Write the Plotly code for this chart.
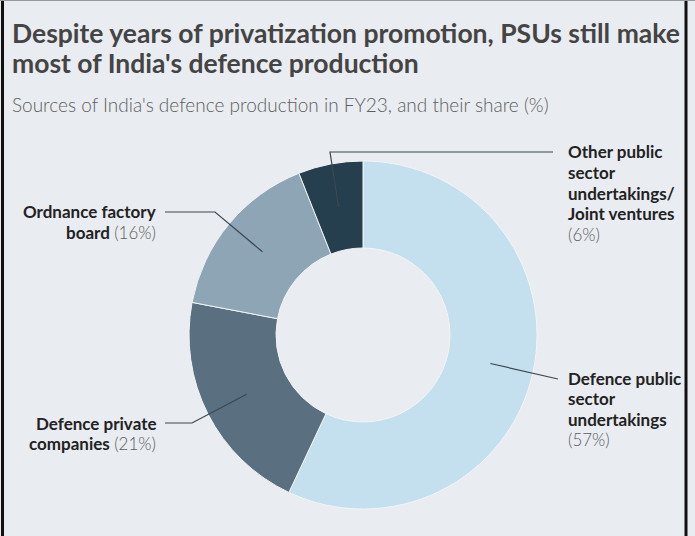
import math
import plotly.graph_objects as go

# Sources of India's defence production, FY23 (share, %)
categories = [
    "Defence public sector undertakings",
    "Defence private companies",
    "Ordnance factory board",
    "Other public sector undertakings/Joint ventures",
]
shares = [57, 21, 16, 6]
colors = ["#c4dfed", "#5a6f7f", "#8ea5b5", "#253f4e"]

PCT = "<span style='color:#5c5c5c;font-weight:300'>({}%)</span>"
label_lines = [
    ["<b>Defence public</b>", "<b>sector</b>", "<b>undertakings</b>", PCT.format(shares[0])],
    ["<b>Defence private</b>", "<b>companies</b> " + PCT.format(shares[1])],
    ["<b>Ordnance factory</b>", "<b>board</b> " + PCT.format(shares[2])],
    ["<b>Other public</b>", "<b>sector</b>", "<b>undertakings/</b>", "<b>Joint ventures</b>",
     PCT.format(shares[3])],
]

title_lines = [
    "Despite years of privatization promotion, PSUs still make",
    "most of India's defence production",
]
subtitle = "Sources of India's defence production in FY23, and their share (%)"

W, H = 695, 536
BG = "#e9ecf0"

# donut placement (pixels)
cx, cy, R = 363, 335, 174
HOLE = 0.5


def px(x):
    return x / W


def py(y):
    return 1 - y / H


fig = go.Figure()
fig.add_trace(go.Pie(
    labels=categories,
    values=shares,
    hole=HOLE,
    sort=False,
    direction="clockwise",
    rotation=0,
    marker=dict(colors=colors, line=dict(color="#f2f5f7", width=1)),
    textinfo="none",
    hoverinfo="label+percent",
    showlegend=False,
    domain=dict(x=[px(cx - R), px(cx + R)], y=[py(cy + R), py(cy - R)]),
))

# dot at the middle of each slice, on the mid-ring radius
total = sum(shares)
r_mid = R * (1 + HOLE) / 2
dots = []
cum = 0
for v in shares:
    theta = math.radians((cum + v / 2) / total * 360)
    dots.append((cx + r_mid * math.sin(theta), cy - r_mid * math.cos(theta)))
    cum += v

# leader-line elbows and label anchors (pixels): x edge, first-line y, side
elbows = [
    [(558, 379)],
    [(192, 423), (165, 423)],
    [(215, 212), (165, 212)],
    [(330, 152), (553, 152)],
]
label_pos = [
    (566, 378, "left"),
    (158, 423, "right"),
    (158, 212, "right"),
    (566, 152, "left"),
]
LINE_H = 20.6

shapes = []
for (dx, dy), pts in zip(dots, elbows):
    path = [(dx, dy)] + pts
    d = "M " + " L ".join(f"{px(x)},{py(y)}" for x, y in path)
    shapes.append(dict(type="path", xref="paper", yref="paper", path=d,
                       line=dict(color="#3b4852", width=1.2)))

fig.add_trace(go.Scatter(
    x=[px(d[0]) for d in dots], y=[py(d[1]) for d in dots],
    mode="markers", marker=dict(size=5, color="#1f2d36"),
    hoverinfo="skip", showlegend=False,
))

annotations = []
for (x, y0, side), lines in zip(label_pos, label_lines):
    for i, txt in enumerate(lines):
        annotations.append(dict(
            x=px(x), y=py(y0 + i * LINE_H), xref="paper", yref="paper",
            xanchor=side, yanchor="middle", align=side, showarrow=False,
            text=txt, font=dict(family="Lato", size=17, color="#222"),
        ))

for i, txt in enumerate(title_lines):
    annotations.append(dict(
        x=px(10), y=py(33 + i * 30), xref="paper", yref="paper",
        xanchor="left", yanchor="middle", showarrow=False,
        text=f"<b>{txt}</b>",
        font=dict(family="Lato", size=26.5, color="#444"),
    ))
annotations.append(dict(
    x=px(10), y=py(104), xref="paper", yref="paper", xanchor="left", yanchor="middle",
    showarrow=False, text=subtitle,
    font=dict(family="Lato", size=19, color="#5e5e5e", weight=300),
))

# frame
shapes += [
    dict(type="line", xref="paper", yref="paper", x0=px(2.5), x1=px(2.5), y0=0, y1=1,
         line=dict(color="#111", width=3)),
    dict(type="line", xref="paper", yref="paper", x0=px(686), x1=px(686), y0=0, y1=1,
         line=dict(color="#111", width=3)),
    dict(type="line", xref="paper", yref="paper", x0=0, x1=1, y0=py(0.5), y1=py(0.5),
         line=dict(color="#999", width=1)),
]

fig.update_layout(
    width=W, height=H,
    margin=dict(l=0, r=0, t=0, b=0),
    paper_bgcolor=BG, plot_bgcolor=BG,
    xaxis=dict(visible=False, range=[0, 1], fixedrange=True),
    yaxis=dict(visible=False, range=[0, 1], fixedrange=True),
    shapes=shapes,
    annotations=annotations,
)

fig.write_html("out.html")
